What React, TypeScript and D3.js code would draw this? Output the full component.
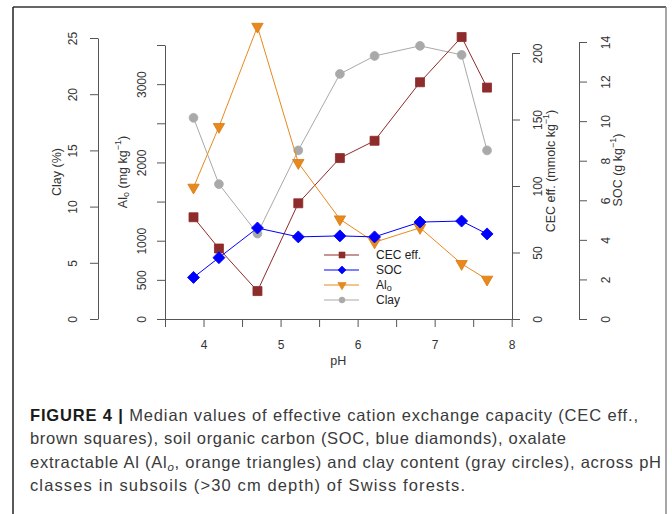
import React, { useRef, useEffect } from 'react';
import * as d3 from 'd3';

// values (median per pH class)
const phClasses = [3.87, 4.2, 4.7, 5.23, 5.77, 6.22, 6.81, 7.35, 7.68];
const cecValues = [76.5, 53, 21, 87, 121, 134, 178, 212, 174];
const socValues = [2.1, 3.1, 4.6, 4.15, 4.2, 4.15, 4.9, 4.95, 4.3];
const alValues = [1680, 2455, 3735, 1995, 1275, 980, 1165, 705, 505];
const clayValues = [17.9, 12.0, 7.6, 15.0, 21.8, 23.4, 24.3, 23.5, 15.0];

const clayTicks = [0, 5, 10, 15, 20, 25];
const alTicks = [0, 500, 1000, 1500, 2000, 2500, 3000, 3500];
const alLabelled = [0, 500, 1000, 2000, 3000];
const cecTicks = [0, 50, 100, 150, 200];
const socTicks = [0, 2, 4, 6, 8, 10, 12, 14];
const phTicks = [3.5, 4, 4.5, 5, 5.5, 6, 6.5, 7, 7.5, 8];

const captionLines = [
  'Median values of effective cation exchange capacity (CEC eff.,',
  'brown squares), soil organic carbon (SOC, blue diamonds), oxalate',
  'extractable Al (Al',
  'classes in subsoils (>30 cm depth) of Swiss forests.',
];

const FONT = '"Liberation Sans", Arial, Helvetica, sans-serif';
const BROWN = '#8e2b2b';
const BLUE = '#0000ff';
const ORANGE = '#e8891e';
const GRAY = '#a9a9a9';

const App: React.FC = () => {
  const svgRef = useRef<SVGSVGElement | null>(null);

  useEffect(() => {
    if (!svgRef.current) return;
    const svg = d3.select(svgRef.current);
    svg.selectAll('*').remove();

    const baseY = 319;
    const x = d3.scaleLinear().domain([3.5, 8]).range([165, 511.7]);
    const yClay = d3.scaleLinear().domain([0, 25]).range([baseY, 38]);
    const yAl = d3.scaleLinear().domain([0, 3500]).range([baseY, 45]);
    const yCec = d3.scaleLinear().domain([0, 200]).range([baseY, 53]);
    const ySoc = d3.scaleLinear().domain([0, 14]).range([baseY, 42]);

    // frame
    svg.append('line').attr('x1', 13).attr('x2', 666).attr('y1', 7).attr('y2', 7)
      .attr('stroke', '#333').attr('stroke-width', 1.5);
    svg.append('line').attr('x1', 13).attr('x2', 13).attr('y1', 7).attr('y2', 514)
      .attr('stroke', '#222').attr('stroke-width', 1.5);
    svg.append('line').attr('x1', 666).attr('x2', 666).attr('y1', 7).attr('y2', 514)
      .attr('stroke', '#888').attr('stroke-width', 1.5);

    const styleAxis = (g: d3.Selection<SVGGElement, unknown, null, undefined>, offset: number) => {
      g.selectAll('path.domain').attr('stroke', '#555');
      g.selectAll('.tick line').attr('stroke', '#555');
      g.selectAll('.tick text')
        .attr('x', null).attr('y', null).attr('dy', null)
        .attr('transform', `translate(${offset},0) rotate(-90)`)
        .attr('text-anchor', 'middle')
        .attr('dominant-baseline', 'central')
        .attr('fill', '#333')
        .style('font-size', '12px')
        .style('font-family', FONT);
    };

    // left axes
    const gClay = svg.append('g').attr('transform', 'translate(98,0)');
    gClay.call(d3.axisLeft(yClay).tickValues(clayTicks).tickSize(8).tickSizeOuter(0).tickFormat(d3.format('d')));
    styleAxis(gClay, -25);

    const gAl = svg.append('g').attr('transform', 'translate(165,0)');
    gAl.call(d3.axisLeft(yAl).tickValues(alTicks).tickSize(8).tickSizeOuter(0)
      .tickFormat(d => (alLabelled.includes(+d) ? String(d) : '')));
    styleAxis(gAl, -23);

    // right axes
    const gCec = svg.append('g').attr('transform', 'translate(512,0)');
    gCec.call(d3.axisRight(yCec).tickValues(cecTicks).tickSize(8).tickSizeOuter(0).tickFormat(d3.format('d')));
    styleAxis(gCec, 26);

    const gSoc = svg.append('g').attr('transform', 'translate(579,0)');
    gSoc.call(d3.axisRight(ySoc).tickValues(socTicks).tickSize(8).tickSizeOuter(0).tickFormat(d3.format('d')));
    styleAxis(gSoc, 27);

    // bottom axis
    const gX = svg.append('g').attr('transform', `translate(0,${baseY})`);
    gX.call(d3.axisBottom(x).tickValues(phTicks).tickSize(8).tickSizeOuter(0)
      .tickFormat(d => (Number.isInteger(+d) ? String(d) : '')));
    gX.selectAll('path.domain').attr('stroke', '#555');
    gX.selectAll('.tick line').attr('stroke', '#555');
    gX.selectAll('.tick text').attr('y', 30).attr('dy', null)
      .attr('fill', '#333').style('font-size', '12px').style('font-family', FONT);

    // axis titles
    const title = (cx: number, cy: number) => svg.append('text')
      .attr('transform', `translate(${cx},${cy}) rotate(-90)`)
      .attr('text-anchor', 'middle')
      .attr('dominant-baseline', 'central')
      .attr('fill', '#333')
      .style('font-size', '12.5px')
      .style('font-family', FONT);

    title(57, 172).text('Clay (%)');

    const tAl = title(123, 172);
    tAl.append('tspan').text('Al');
    tAl.append('tspan').attr('dy', 3).style('font-size', '9px').text('o');
    tAl.append('tspan').attr('dy', -3).text(' (mg kg');
    tAl.append('tspan').attr('dy', -5).style('font-size', '9px').text('−1');
    tAl.append('tspan').attr('dy', 5).text(')');

    const tCec = title(551, 171);
    tCec.append('tspan').text('CEC eff. (mmolc kg');
    tCec.append('tspan').attr('dy', -5).style('font-size', '9px').text('−1');
    tCec.append('tspan').attr('dy', 5).text(')');

    const tSoc = title(618, 170);
    tSoc.append('tspan').text('SOC (g kg');
    tSoc.append('tspan').attr('dy', -5).style('font-size', '9px').text('−1');
    tSoc.append('tspan').attr('dy', 5).text(')');

    svg.append('text').attr('x', x(5.75)).attr('y', 365)
      .attr('text-anchor', 'middle').attr('fill', '#333')
      .style('font-size', '12.5px').style('font-family', FONT).text('pH');

    // series
    type Series = {
      values: number[];
      y: d3.ScaleLinear<number, number>;
      color: string;
      stroke: string;
      symbol: d3.SymbolType;
      size: number;
      legendSize: number;
      rotate: number;
    };
    const clay: Series = { values: clayValues, y: yClay, color: GRAY, stroke: GRAY, symbol: d3.symbolCircle, size: 61, legendSize: 28, rotate: 0 };
    const cec: Series = { values: cecValues, y: yCec, color: BROWN, stroke: BROWN, symbol: d3.symbolSquare, size: 81, legendSize: 36, rotate: 0 };
    const al: Series = { values: alValues, y: yAl, color: ORANGE, stroke: '#d87a12', symbol: d3.symbolTriangle, size: 56, legendSize: 30, rotate: 180 };
    const soc: Series = { values: socValues, y: ySoc, color: BLUE, stroke: BLUE, symbol: d3.symbolSquare, size: 72, legendSize: 32, rotate: 45 };

    const drawSeries = (s: Series) => {
      const line = d3.line<number>().x((_, i) => x(phClasses[i])).y(v => s.y(v));
      svg.append('path').attr('d', line(s.values)).attr('fill', 'none')
        .attr('stroke', s.color).attr('stroke-width', 1);
      svg.append('g').selectAll('path').data(s.values).join('path')
        .attr('d', d3.symbol().type(s.symbol).size(s.size)())
        .attr('transform', (v, i) => `translate(${x(phClasses[i])},${s.y(v)}) rotate(${s.rotate})`)
        .attr('fill', s.color).attr('stroke', s.stroke).attr('stroke-width', 0.8);
    };
    [clay, cec, al, soc].forEach(drawSeries);

    // legend
    const legendItems = [
      { label: 'CEC eff.', s: cec },
      { label: 'SOC', s: soc },
      { label: 'Al', sub: 'o', s: al },
      { label: 'Clay', s: clay },
    ];
    legendItems.forEach((item, i) => {
      const ly = 255 + i * 15;
      svg.append('line').attr('x1', 324).attr('x2', 359).attr('y1', ly).attr('y2', ly)
        .attr('stroke', item.s.color).attr('stroke-width', 1);
      svg.append('path').attr('d', d3.symbol().type(item.s.symbol).size(item.s.legendSize)())
        .attr('transform', `translate(342,${ly}) rotate(${item.s.rotate})`)
        .attr('fill', item.s.color).attr('stroke', item.s.stroke).attr('stroke-width', 0.6);
      const t = svg.append('text').attr('x', 376).attr('y', ly)
        .attr('dominant-baseline', 'central').attr('fill', '#222')
        .style('font-size', '12px').style('font-family', FONT);
      t.append('tspan').text(item.label);
      if (item.sub) t.append('tspan').attr('dy', 3).style('font-size', '9px').text(item.sub);
    });

    // caption
    const cap = svg.append('g').attr('fill', '#3a3a3a')
      .style('font-family', FONT).style('font-size', '16.5px');
    const l1 = cap.append('text').attr('x', 30).attr('y', 420.5)
      .attr('textLength', 608).attr('lengthAdjust', 'spacing');
    l1.append('tspan').style('font-weight', 'bold').attr('fill', '#1a1a1a').text('FIGURE 4 | ');
    l1.append('tspan').text(captionLines[0]);
    cap.append('text').attr('x', 30).attr('y', 444)
      .attr('textLength', 536).attr('lengthAdjust', 'spacing').text(captionLines[1]);
    const l3 = cap.append('text').attr('x', 30).attr('y', 467.5)
      .attr('textLength', 631).attr('lengthAdjust', 'spacing');
    l3.append('tspan').text(captionLines[2]);
    l3.append('tspan').attr('dy', 3).style('font-size', '11.5px').style('font-style', 'italic').text('o');
    l3.append('tspan').attr('dy', -3).text(', orange triangles) and clay content (gray circles), across pH');
    cap.append('text').attr('x', 30).attr('y', 491)
      .attr('textLength', 435).attr('lengthAdjust', 'spacing').text(captionLines[3]);
  }, []);

  return (
    <svg
      ref={svgRef}
      width={672}
      height={514}
      style={{ position: 'absolute', left: 0, top: 0, background: '#fff' }}
    />
  );
};

export default App;
